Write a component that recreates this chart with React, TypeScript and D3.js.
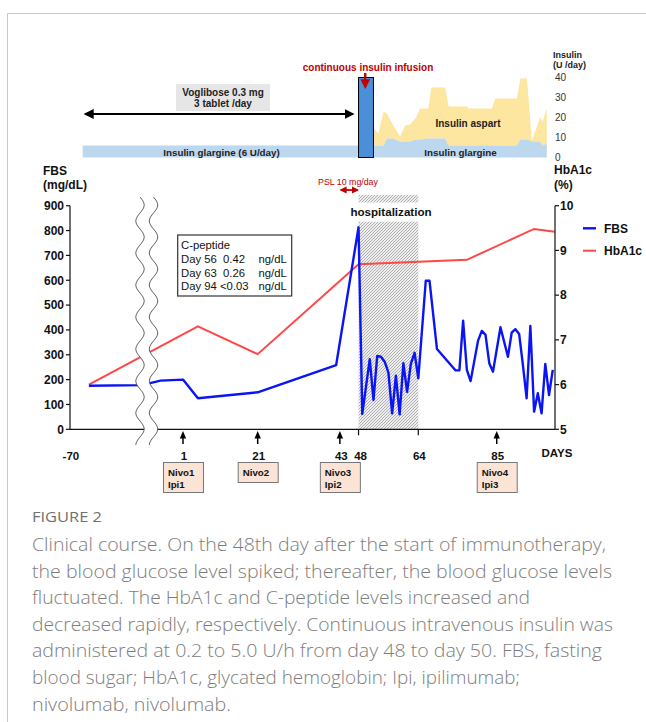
import React from "react";
import * as d3 from "d3";

// FBS (mg/dL) by day since start of immunotherapy
const fbsDays = [-70, -10, -5, 1, 5, 21, 42, 48, 49, 51, 52, 53, 54, 55, 56, 57, 58, 59, 60, 61, 62, 63, 64, 66, 67, 69, 74, 75, 76, 77, 78, 80, 81, 82, 83, 84, 86, 88, 89, 90, 91, 92, 93, 94, 95, 96, 97, 98, 99, 100];
const fbsValues = [175, 178, 196, 200, 125, 149, 258, 813, 62, 282, 118, 295, 292, 272, 228, 64, 216, 60, 266, 151, 263, 308, 205, 598, 598, 323, 237, 237, 437, 239, 194, 357, 396, 380, 266, 232, 411, 292, 389, 403, 384, 259, 125, 416, 71, 145, 64, 263, 138, 239];

// HbA1c (%)
const hbDays = [-70, 5, 21, 48, 77, 95, 100.5];
const hbValues = [6.0, 7.3, 6.68, 8.69, 8.79, 9.48, 9.42];

// insulin (U/day)
const glargineBaseDays = [-77, 48];
const glargineBaseValues = [6, 6];
const insulinDays = [52, 53.3, 54.7, 55.6, 57.3, 59.1, 60.5, 61.8, 63.4, 64.5, 66.7, 67.5, 71.2, 72.1, 77, 77.4, 83.7, 84.6, 90.4, 91.3, 93.1, 94.4, 95.3, 96.6, 97.3, 98.4];
const insulinTotal = [15, 12, 23, 22, 16, 10.5, 16, 16.5, 20, 24.5, 24.5, 35, 35, 25.5, 25.5, 24.5, 24.5, 29.5, 29.5, 39.5, 39.5, 8.5, 13, 20, 18, 24.5];
const insulinGlargine = [6, 6, 6, 9.5, 9.5, 8, 8, 8, 9, 9, 9.5, 9.5, 9.5, 6, 6, 6, 6, 6, 6, 9, 9, 8, 8, 8, 6, 7];
const infusionDays = [48, 52];
const hospitalDays = [48, 64];
const pslDays = [43, 48];

const fbsTicks = [0, 100, 200, 300, 400, 500, 600, 700, 800, 900];
const hbTicks = [5, 6, 7, 8, 9, 10];
const insulinTicks = [0, 10, 20, 30, 40];
const dayLabels = [1, 21, 43, 48, 64, 85];
const doseDays = [1, 21, 43, 85];
const doseLabels = [["Nivo1", "Ipi1"], ["Nivo2"], ["Nivo3", "Ipi2"], ["Nivo4", "Ipi3"]];
const cPeptide = [
  ["Day 56", "0.42", "ng/dL"],
  ["Day 63", "0.26", "ng/dL"],
  ["Day 94", "<0.03", "ng/dL"],
];
const caption = [
  "Clinical course. On the 48th day after the start of immunotherapy,",
  "the blood glucose level spiked; thereafter, the blood glucose levels",
  "fluctuated. The HbA1c and C-peptide levels increased and",
  "decreased rapidly, respectively. Continuous intravenous insulin was",
  "administered at 0.2 to 5.0 U/h from day 48 to day 50. FBS, fasting",
  "blood sugar; HbA1c, glycated hemoglobin; Ipi, ipilimumab;",
  "nivolumab, nivolumab.",
];
// measured line widths in the figure (px)
const captionWidths = [574, 580, 498, 581, 570, 488, 199];

const FONT = "'Liberation Sans', Arial, sans-serif";

export default function App() {
  const width = 646;
  const height = 722;

  // broken time axis: compressed before the break
  const x = d3.scaleLinear().domain([-77, -10, 100.6]).range([82.7, 141.9, 555]);
  const yFbs = d3.scaleLinear().domain([0, 900]).range([429.3, 205.7]);
  const yHb = d3.scaleLinear().domain([5, 10]).range([429.3, 205.7]);
  const yIns = d3.scaleLinear().domain([0, 40]).range([157.5, 77.5]);

  const axisLeft = 70;
  const axisRight = 555;
  const axisY = yFbs(0);

  const fbsLine = d3.line<number>().x((d, i) => x(fbsDays[i])).y((d) => yFbs(d));
  const hbLine = d3.line<number>().x((d, i) => x(hbDays[i])).y((d) => yHb(d));

  const gDays = glargineBaseDays.concat(insulinDays);
  const gVals = glargineBaseValues.concat(insulinGlargine);
  const glargineArea = d3
    .area<number>()
    .x((d, i) => x(gDays[i]))
    .y0(yIns(0))
    .y1((d) => yIns(d));
  const aspartArea = d3
    .area<number>()
    .x((d, i) => x(insulinDays[i]))
    .y0((d, i) => yIns(insulinGlargine[i]))
    .y1((d) => yIns(d));

  // wavy axis break
  const wx = (cx: number, t: number) => cx + 4.2 * Math.sin(((t - 197) / 32) * 2 * Math.PI);
  const ys = d3.range(197, 446, 2);
  const wave = (cx: number) =>
    d3
      .line<number>()
      .x((t) => wx(cx, t))
      .y((t) => t)(ys);
  const breakFill =
    "M" +
    ys
      .map((t) => [wx(140, t), t])
      .concat(ys.map((t) => [wx(153.5, t), t]).reverse())
      .map((p) => p.join(","))
      .join("L") +
    "Z";

  const hx0 = x(hospitalDays[0]);
  const hx1 = x(hospitalDays[1]);

  return (
    <svg
      width={width}
      height={height}
      style={{ position: "absolute", left: 0, top: 0, background: "#fff" }}
      fontFamily={FONT}
    >
      <defs>
        <pattern id="hatch" patternUnits="userSpaceOnUse" width="3" height="3">
          <rect width="3" height="3" fill="#ededed" />
          <path d="M-1,1 L1,-1 M0,3 L3,0 M2,4 L4,2" stroke="#959595" strokeWidth="0.7" />
        </pattern>
        <marker id="ah" viewBox="0 0 10 10" refX="8" refY="5" markerWidth="5" markerHeight="5" orient="auto-start-reverse">
          <path d="M0,0 L10,5 L0,10 Z" fill="#000" />
        </marker>
        <marker id="ahr" viewBox="0 0 10 10" refX="8" refY="5" markerWidth="4" markerHeight="4" orient="auto-start-reverse">
          <path d="M0,0 L10,5 L0,10 Z" fill="#c00000" />
        </marker>
      </defs>

      {/* figure frame */}
      <path d="M7.5,722 L7.5,13.5 L646,13.5" fill="none" stroke="#c8c8c8" />

      {/* ---------- insulin panel ---------- */}
      <path d={aspartArea(insulinTotal) || ""} fill="#fde6a0" />
      <path d={glargineArea(gVals) || ""} fill="#bdd7ee" />
      <rect
        x={x(infusionDays[0])}
        y={yIns(40)}
        width={x(infusionDays[1]) - x(infusionDays[0])}
        height={yIns(0) - yIns(40)}
        fill="#4a8fd8"
        stroke="#000"
        strokeWidth={1}
      />
      <text x={368} y={70.5} textAnchor="middle" fontSize={10} fontWeight="bold" fill="#c00000">
        continuous insulin infusion
      </text>
      <line x1={x(49.8)} x2={x(49.8)} y1={73} y2={87} stroke="#c00000" strokeWidth={2.4} markerEnd="url(#ahr)" />

      <rect x={176} y={84} width={94} height={27} fill="#e6e6e6" />
      <text x={223} y={96} textAnchor="middle" fontSize={10} fontWeight="bold" fill="#222">
        Voglibose 0.3 mg
      </text>
      <text x={223} y={107} textAnchor="middle" fontSize={10} fontWeight="bold" fill="#222">
        3 tablet /day
      </text>
      <line
        x1={x(-77) + 3}
        x2={x(46.4)}
        y1={114}
        y2={114}
        stroke="#000"
        strokeWidth={2}
        markerStart="url(#ah)"
        markerEnd="url(#ah)"
      />
      <text x={221.5} y={156} textAnchor="middle" fontSize={9.8} fontWeight="bold" fill="#222">
        Insulin glargine (6 U/day)
      </text>
      <text x={460.5} y={156} textAnchor="middle" fontSize={9.8} fontWeight="bold" fill="#222">
        Insulin glargine
      </text>
      <text x={468} y={127} textAnchor="middle" fontSize={10} fontWeight="bold" fill="#222">
        Insulin aspart
      </text>

      <text x={553} y={58} fontSize={9} fontWeight="bold" fill="#222">Insulin</text>
      <text x={553} y={68} fontSize={9} fontWeight="bold" fill="#222">(U /day)</text>
      {insulinTicks.map((t) => (
        <text key={t} x={555} y={yIns(t) + 3.5} fontSize={10} fill="#333">
          {t}
        </text>
      ))}

      {/* ---------- main panel ---------- */}
      <text x={43} y={175} fontSize={12} fontWeight="bold" fill="#111">FBS</text>
      <text x={43} y={189} fontSize={12} fontWeight="bold" fill="#111">(mg/dL)</text>
      <text x={554} y={174} fontSize={12} fontWeight="bold" fill="#111">HbA1c</text>
      <text x={554} y={189} fontSize={12} fontWeight="bold" fill="#111">(%)</text>

      {/* PSL */}
      <text x={348} y={184.5} textAnchor="middle" fontSize={8.8} fill="#c00000">PSL 10 mg/day</text>
      <line
        x1={x(pslDays[0]) + 1}
        x2={x(pslDays[1]) - 1}
        y1={190}
        y2={190}
        stroke="#c00000"
        strokeWidth={1.8}
        markerStart="url(#ahr)"
        markerEnd="url(#ahr)"
      />

      {/* hospitalization */}
      <rect x={hx0} y={195} width={hx1 - hx0} height={7.5} fill="url(#hatch)" />
      <rect x={hx0} y={221.7} width={hx1 - hx0} height={axisY - 221.7} fill="url(#hatch)" />
      <text x={391} y={216} textAnchor="middle" fontSize={11.6} fontWeight="bold" fill="#111">
        hospitalization
      </text>

      {/* data */}
      <path d={hbLine(hbValues) || ""} fill="none" stroke="#ff4747" strokeWidth={2} />
      <path d={fbsLine(fbsValues) || ""} fill="none" stroke="#0a14f5" strokeWidth={2.4} strokeLinejoin="round" />

      {/* C-peptide box */}
      <rect x={177.7} y={235} width={114} height={61} fill="#fff" stroke="#333" strokeWidth={1.2} />
      <text x={181} y={249} fontSize={11.3} fill="#111">C-peptide</text>
      {cPeptide.map((r, i) => (
        <g key={i} fontSize={11.3} fill="#111">
          <text x={181} y={263 + i * 13.7}>{r[0]}</text>
          <text x={i === 2 ? 220 : 223} y={263 + i * 13.7}>{r[1]}</text>
          <text x={258.5} y={263 + i * 13.7}>{r[2]}</text>
        </g>
      ))}

      {/* axes */}
      <line x1={axisLeft} x2={axisLeft} y1={yFbs(900)} y2={axisY} stroke="#111" strokeWidth={1.2} />
      {fbsTicks.map((t) => (
        <g key={t}>
          <line x1={axisLeft - 4} x2={axisLeft} y1={yFbs(t)} y2={yFbs(t)} stroke="#111" strokeWidth={1.2} />
          <text x={axisLeft - 6} y={yFbs(t) + 4.3} textAnchor="end" fontSize={12} fontWeight="bold" fill="#111">
            {t}
          </text>
        </g>
      ))}
      <line x1={axisRight} x2={axisRight} y1={yHb(10)} y2={axisY} stroke="#111" strokeWidth={1.2} />
      {hbTicks.map((t) => (
        <g key={t}>
          <line x1={axisRight} x2={axisRight + 4} y1={yHb(t)} y2={yHb(t)} stroke="#111" strokeWidth={1.2} />
          <text x={axisRight + 5} y={yHb(t) + 4.3} fontSize={12} fontWeight="bold" fill="#111">
            {t}
          </text>
        </g>
      ))}
      <line x1={axisLeft} x2={axisRight} y1={axisY} y2={axisY} stroke="#111" strokeWidth={1.2} />
      {hospitalDays.map((d) => (
        <line key={d} x1={x(d)} x2={x(d)} y1={axisY} y2={axisY + 6} stroke="#111" strokeWidth={1.2} />
      ))}

      {/* axis break */}
      <path d={breakFill} fill="#fff" />
      <path d={wave(140) || ""} fill="none" stroke="#555" strokeWidth={0.9} />
      <path d={wave(153.5) || ""} fill="none" stroke="#555" strokeWidth={0.9} />

      {/* x labels */}
      <text x={x(-70) - 18} y={460} textAnchor="middle" fontSize={11.5} fontWeight="bold" fill="#111">-70</text>
      {dayLabels.map((d) => (
        <text key={d} x={x(d) + (d === 43 ? 1.5 : d === 48 ? 2 : 1)} y={460} textAnchor="middle" fontSize={11.5} fontWeight="bold" fill="#111">
          {d}
        </text>
      ))}
      <text x={541.5} y={456.5} fontSize={11.5} fontWeight="bold" fill="#111">DAYS</text>

      {/* dose arrows & boxes */}
      {doseDays.map((d, i) => {
        const cx = x(d);
        const lines = doseLabels[i];
        const h = lines.length === 2 ? 30 : 20;
        return (
          <g key={d}>
            <line x1={cx} x2={cx} y1={437} y2={444} stroke="#000" strokeWidth={1.5} />
            <path d={`M${cx - 3.2},438.5 L${cx},431 L${cx + 3.2},438.5 Z`} fill="#000" />
            <rect x={cx - 19.5} y={462.5} width={40} height={h} fill="#fbe3d6" stroke="#777" strokeWidth={1} />
            {lines.map((s, j) => (
              <text key={j} x={cx - 15} y={475.5 + j * 12} fontSize={9.7} fontWeight="bold" fill="#111">
                {s}
              </text>
            ))}
          </g>
        );
      })}

      {/* legend */}
      <line x1={583} x2={596} y1={228.3} y2={228.3} stroke="#0a14f5" strokeWidth={2.4} />
      <text x={604} y={232.5} fontSize={12} fontWeight="bold" fill="#111">FBS</text>
      <line x1={583} x2={596} y1={250.7} y2={250.7} stroke="#ff4747" strokeWidth={2} />
      <text x={604} y={255} fontSize={12} fontWeight="bold" fill="#111">HbA1c</text>

      {/* caption */}
      <text
        x={32}
        y={522}
        fontSize={14}
        fill="#707070"
        fontFamily="'Open Sans', sans-serif"
        textLength={70}
        lengthAdjust="spacingAndGlyphs"
      >
        FIGURE 2
      </text>
      {caption.map((s, i) => (
        <text
          key={i}
          x={32}
          y={551 + i * 26.6}
          fontSize={17.5}
          fill="#7d7d7d"
          fontFamily="'Open Sans', sans-serif"
          fontWeight={300}
          textLength={captionWidths[i]}
          lengthAdjust="spacingAndGlyphs"
        >
          {s}
        </text>
      ))}
    </svg>
  );
}
